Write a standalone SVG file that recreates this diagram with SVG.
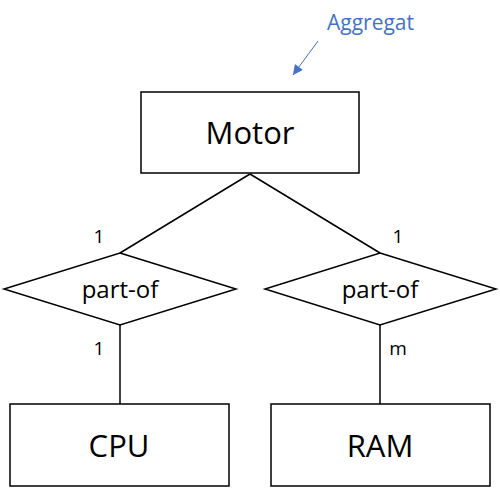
<svg xmlns="http://www.w3.org/2000/svg" width="500" height="491" viewBox="0 0 500 491">
<style>
.box{fill:#fff;stroke:#000;stroke-width:1.5}
.ln{stroke:#000;stroke-width:1.5;fill:none}
.big{font-family:"Open Sans","Liberation Sans",sans-serif;font-size:31px;text-anchor:middle;fill:#000}
.mid{font-family:"Open Sans","Liberation Sans",sans-serif;font-size:24px;text-anchor:middle;fill:#000}
.lbl{font-family:"Open Sans","Liberation Sans",sans-serif;font-size:19px;text-anchor:middle;fill:#000}
</style>
<defs>
<marker id="ah" viewBox="0 0 10 10" refX="10" refY="5" markerWidth="12" markerHeight="10" orient="auto" markerUnits="userSpaceOnUse">
<path d="M0,0 L10,5 L0,10 z" fill="#4472C4"/>
</marker>
</defs>
<rect width="500" height="491" fill="#fff"/>
<g id="connectors">
<line class="ln" x1="250" y1="174" x2="120" y2="253"/>
<line class="ln" x1="250" y1="174" x2="380" y2="253"/>
<line class="ln" x1="120" y1="325" x2="120" y2="404"/>
<line class="ln" x1="380" y1="325" x2="380" y2="404"/>
<line x1="318" y1="41" x2="293" y2="75" stroke="#4472C4" stroke-width="1" marker-end="url(#ah)"/>
</g>
<g id="annotation">
<text x="370.5" y="30" style="font-family:'Open Sans','Liberation Sans',sans-serif;font-size:21px;fill:#4472C4;text-anchor:middle">Aggregat</text>
</g>
<g id="motor">
<rect class="box" x="141" y="92" width="218" height="81"/>
<text class="big" x="250" y="144">Motor</text>
</g>
<g id="partof1">
<polygon class="box" points="120,253 236,289 120,325 4,289"/>
<text class="mid" x="120" y="298">part-of</text>
</g>
<g id="partof2">
<polygon class="box" points="380,253 496,289 380,325 265,289"/>
<text class="mid" x="380" y="298">part-of</text>
</g>
<g id="cpu">
<rect class="box" x="10" y="404" width="219" height="82"/>
<text class="big" x="119" y="457">CPU</text>
</g>
<g id="ram">
<rect class="box" x="271" y="404" width="219" height="82"/>
<text class="big" x="380" y="457">RAM</text>
</g>
<g id="labels">
<text class="lbl" x="99" y="243">1</text>
<text class="lbl" x="398" y="243">1</text>
<text class="lbl" x="99" y="355">1</text>
<text class="lbl" x="398" y="355">m</text>
</g>
</svg>
